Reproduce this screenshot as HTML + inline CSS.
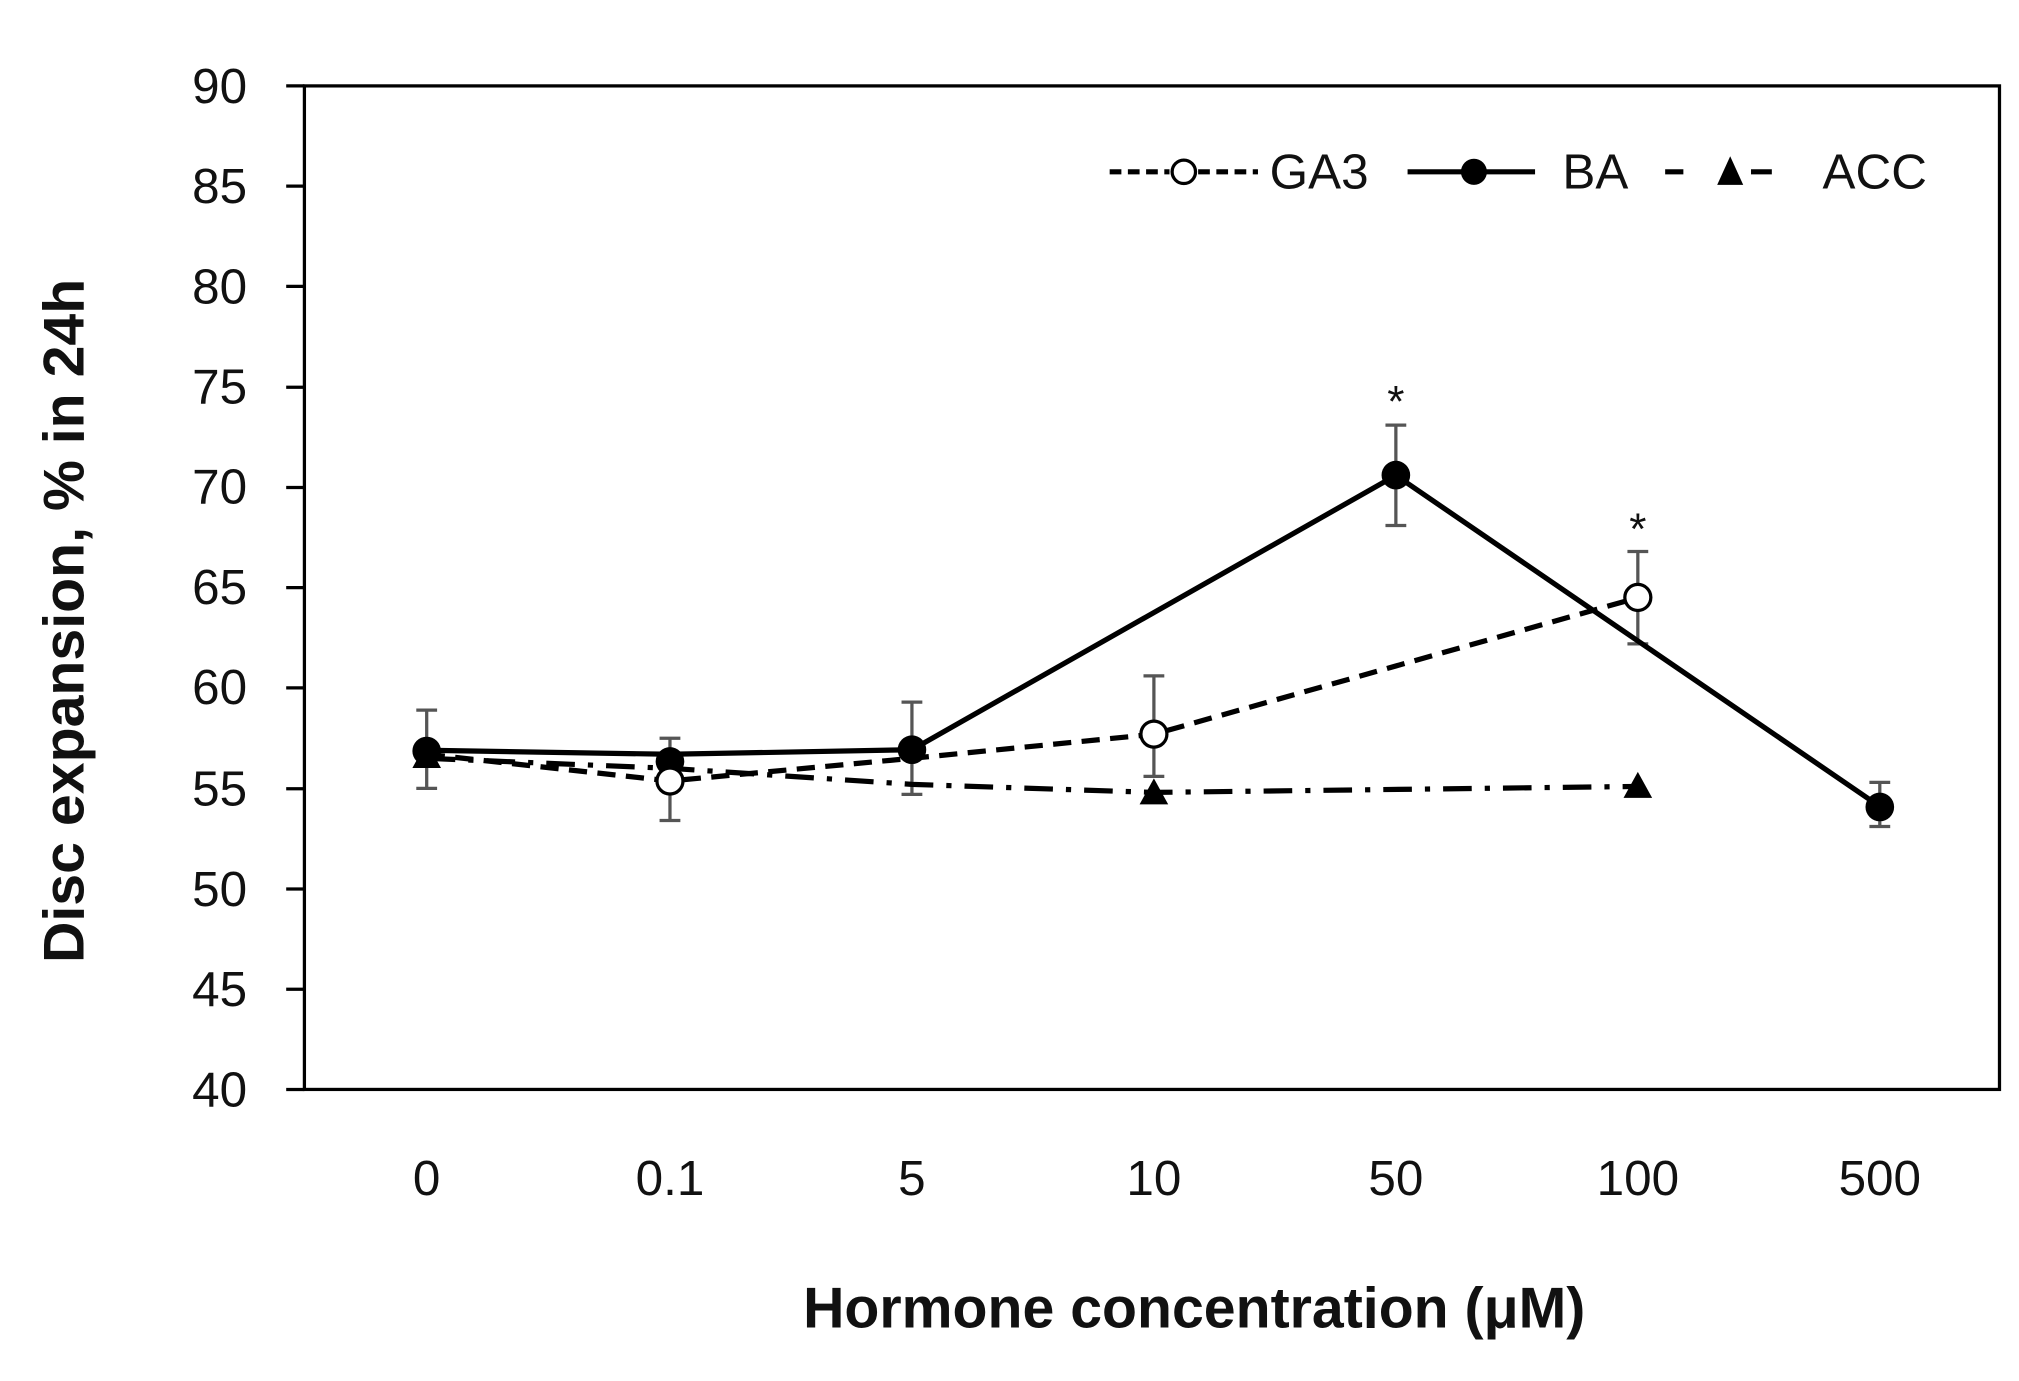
<!DOCTYPE html>
<html><head><meta charset="utf-8"><style>html,body{margin:0;padding:0;background:#fff}svg{display:block}</style></head>
<body>
<svg width="2019" height="1381" viewBox="0 0 1552 1061" preserveAspectRatio="none" xmlns="http://www.w3.org/2000/svg" font-family="Liberation Sans, sans-serif">
<rect width="1552" height="1061" fill="#fff"/>
<rect x="234" y="66" width="1303" height="771" fill="none" stroke="#000" stroke-width="2.5"/>
<g stroke="#000" stroke-width="2.5">
<line x1="220" y1="66" x2="234" y2="66"/><line x1="220" y1="143" x2="234" y2="143"/><line x1="220" y1="220" x2="234" y2="220"/><line x1="220" y1="297.5" x2="234" y2="297.5"/><line x1="220" y1="374.5" x2="234" y2="374.5"/><line x1="220" y1="451.5" x2="234" y2="451.5"/><line x1="220" y1="528.5" x2="234" y2="528.5"/><line x1="220" y1="606" x2="234" y2="606"/><line x1="220" y1="683" x2="234" y2="683"/><line x1="220" y1="760" x2="234" y2="760"/><line x1="220" y1="837" x2="234" y2="837"/>
</g>
<g font-size="38" text-anchor="end" fill="#111">
<text x="190" y="79">90</text><text x="190" y="156">85</text><text x="190" y="233">80</text><text x="190" y="310">75</text><text x="190" y="387">70</text><text x="190" y="464">65</text><text x="190" y="541">60</text><text x="190" y="619">55</text><text x="190" y="696">50</text><text x="190" y="773">45</text><text x="190" y="850">40</text>
</g>
<g font-size="38" text-anchor="middle" fill="#111">
<text x="328" y="918">0</text><text x="515" y="918">0.1</text><text x="701" y="918">5</text><text x="887" y="918">10</text><text x="1073" y="918">50</text><text x="1259" y="918">100</text><text x="1445" y="918">500</text>
</g>
<text x="918" y="1020" font-size="44" font-weight="bold" text-anchor="middle" fill="#111">Hormone concentration (μM)</text>
<text transform="translate(64,477) rotate(-90)" font-size="44" font-weight="bold" text-anchor="middle" fill="#111">Disc expansion, % in 24h</text>
<!-- error bars -->
<g stroke="#555" stroke-width="2.5">
<path d="M328 545.6V605.7M320 545.6h16M320 605.7h16"/>
<path d="M515 567.2V630.4M507 567.2h16M507 630.4h16"/>
<path d="M701 539.4V610.3M693 539.4h16M693 610.3h16"/>
<path d="M887 519.3V596.5M879 519.3h16M879 596.5h16"/>
<path d="M1073 326.6V403.7M1065 326.6h16M1065 403.7h16"/>
<path d="M1259 423.7V494.7M1251 423.7h16M1251 494.7h16"/>
<path d="M1445 601.1V635M1437 601.1h16M1437 635h16"/>
</g>
<!-- ACC -->
<polyline points="328,582.6 515,590.3 701,602.6 887,608.8 1259,604.2" fill="none" stroke="#000" stroke-width="4" stroke-dasharray="22,10,4,10"/>
<!-- GA3 -->
<polyline points="328,579.5 515,600 701,582.6 887,564.1 1259,459.2" fill="none" stroke="#000" stroke-width="4" stroke-dasharray="14,8"/>
<!-- BA -->
<polyline points="328,576.4 515,579.5 701,576 1073,365.2 1445,619.6" fill="none" stroke="#000" stroke-width="4"/>
<g fill="#000">
<circle cx="328" cy="577" r="11"/><circle cx="515" cy="585" r="11"/><circle cx="701" cy="576" r="11"/><circle cx="1073" cy="365" r="11"/><circle cx="1445" cy="620" r="11"/>
<path d="M328 570l11 20h-22z"/><path d="M515 580l11 20h-22z"/><path d="M887 598l11 20h-22z"/><path d="M1259 593l11 20h-22z"/>
</g>
<g fill="#fff" stroke="#000" stroke-width="2.5">
<circle cx="515" cy="600" r="10"/><circle cx="887" cy="564" r="10"/><circle cx="1259" cy="459" r="10"/>
</g>
<g font-size="34" text-anchor="middle" fill="#111"><text x="1073" y="320">*</text><text x="1259" y="418">*</text></g>
<!-- legend -->
<g stroke="#000" stroke-width="4">
<path d="M853 132h46M921 132h46" stroke-dasharray="9,5"/>
<circle cx="910" cy="132" r="9" fill="#fff" stroke-width="2.5"/>
<path d="M1082 132h98"/>
<circle cx="1133" cy="132" r="10" fill="#000" stroke="none"/>
<path d="M1280 132h14M1346 132h16"/>
</g>
<path d="M1330 120l10 22h-20z" fill="#000"/>
<g font-size="38" fill="#111"><text x="976" y="145">GA3</text><text x="1201" y="145">BA</text><text x="1401" y="145">ACC</text></g>
</svg>
</body></html>
